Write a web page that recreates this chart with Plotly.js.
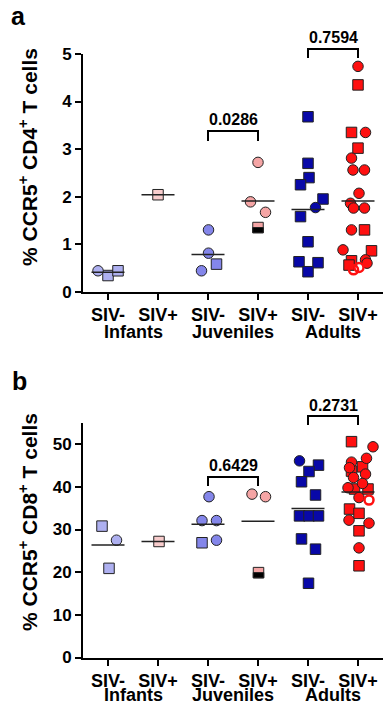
<!DOCTYPE html>
<html><head><meta charset="utf-8">
<script src="https://cdn.plot.ly/plotly-3.0.1.min.js"></script>
<style>html,body{margin:0;padding:0;background:#fff}#chart{width:383px;height:706px}</style>
</head><body><div id="chart"></div>
<script>
// ---------- labels ----------
const tickLabels = ['SIV-', 'SIV+', 'SIV-', 'SIV+', 'SIV-', 'SIV+'];
const groupLabels = ['Infants', 'Juveniles', 'Adults'];
const groupCenters = [0.5, 2.5, 4.5];
const pLabelsA = ['0.0286', '0.7594'];
const pLabelsB = ['0.6429', '0.2731'];

// ---------- panel a: % CCR5+ CD4+ T cells ----------
const cd4InfNeg = [0.44, 0.34, 0.44];
const cd4InfNegKind = ['c', 's', 's'];
const cd4InfNegDx = [-0.2, 0, 0.2];
const cd4InfPos = [2.04];
const cd4InfPosKind = ['s'];
const cd4InfPosDx = [0];
const cd4JuvNeg = [1.30, 0.81, 0.44, 0.58];
const cd4JuvNegKind = ['c', 'c', 'c', 's'];
const cd4JuvNegDx = [0.01, 0.01, -0.13, 0.17];
const cd4JuvPos = [2.72, 1.89, 1.67, 1.35];
const cd4JuvPosKind = ['c', 'c', 'c', 'h'];
const cd4JuvPosDx = [0, -0.15, 0.15, 0];
const cd4AduNeg = [3.68, 2.70, 2.40, 2.25, 1.95, 1.77, 1.58, 1.05, 0.63, 0.61, 0.42];
const cd4AduNegKind = ['s', 's', 's', 's', 's', 'c', 's', 's', 's', 's', 's'];
const cd4AduNegDx = [0, 0, 0.02, -0.15, 0.3, 0.15, -0.15, 0, -0.18, 0.2, 0];
const cd4AduPos = [4.74, 4.35, 3.35, 3.35, 3.02, 2.81, 2.56, 2.56, 2.07, 1.86, 1.76, 1.76, 1.30, 1.30, 0.88, 0.86, 0.65, 0.67, 0.60, 0.56, 0.46, 0.51];
const cd4AduPosKind = ['c', 's', 's', 'c', 's', 'c', 'c', 'c', 'c', 'c', 'c', 'c', 'c', 's', 'c', 's', 's', 'c', 'c', 's', 'o', 'o'];
const cd4AduPosDx = [0, 0, -0.13, 0.15, 0, -0.13, -0.1, 0.13, 0.02, -0.15, -0.09, 0.13, -0.13, 0.13, -0.3, 0.27, -0.13, 0.15, 0.18, -0.18, -0.09, 0.02];

// ---------- panel b: % CCR5+ CD8+ T cells ----------
const cd8InfNeg = [30.8, 27.5, 20.9];
const cd8InfNegKind = ['s', 'c', 's'];
const cd8InfNegDx = [-0.12, 0.17, 0.02];
const cd8InfPos = [27.2];
const cd8InfPosKind = ['s'];
const cd8InfPosDx = [0.02];
const cd8JuvNeg = [37.7, 32.1, 32.1, 27.5, 26.9];
const cd8JuvNegKind = ['c', 'c', 'c', 'c', 's'];
const cd8JuvNegDx = [0.02, -0.12, 0.17, 0.17, -0.12];
const cd8JuvPos = [38.3, 37.7, 19.9];
const cd8JuvPosKind = ['c', 'c', 'h'];
const cd8JuvPosDx = [-0.12, 0.15, 0.01];
const cd8AduNeg = [46.1, 45.1, 43.6, 41.2, 38.1, 33.2, 33.2, 33.2, 27.8, 25.4, 17.4];
const cd8AduNegKind = ['c', 's', 's', 's', 's', 's', 's', 's', 's', 's', 's'];
const cd8AduNegDx = [-0.17, 0.21, 0.02, -0.13, 0.15, -0.17, 0.02, 0.21, -0.13, 0.15, 0.01];
const cd8AduPos = [50.6, 49.4, 46.7, 45.8, 44.7, 44.5, 43.7, 43.0, 42.2, 40.8, 39.8, 39.5, 39.5, 37.5, 36.9, 34.8, 33.8, 32.2, 31.5, 29.7, 25.7, 21.5];
const cd8AduPosKind = ['s', 'c', 'c', 'c', 's', 'c', 's', 'c', 'c', 'c', 'c', 's', 's', 'c', 'o', 's', 's', 'c', 'c', 's', 'c', 's'];
const cd8AduPosDx = [-0.13, 0.3, 0.17, -0.13, 0.09, -0.17, -0.13, 0.15, -0.09, 0.09, -0.2, 0.2, -0.07, 0.02, 0.22, -0.17, 0.02, -0.18, 0.22, 0.02, 0.02, 0.02];

// ---------- styles ----------
const groupColors = ['#aeb0f0', '#f8cccc', '#8486ea', '#f5a5a5', '#0808a8', '#ff1010'];
const FONT = 'Arial, "Liberation Sans", sans-serif';
const MS = 10.5;

const panels = [
  {xa: 'x', ya: 'y', vals: [cd4InfNeg, cd4InfPos, cd4JuvNeg, cd4JuvPos, cd4AduNeg, cd4AduPos],
   kinds: [cd4InfNegKind, cd4InfPosKind, cd4JuvNegKind, cd4JuvPosKind, cd4AduNegKind, cd4AduPosKind],
   dxs: [cd4InfNegDx, cd4InfPosDx, cd4JuvNegDx, cd4JuvPosDx, cd4AduNegDx, cd4AduPosDx]},
  {xa: 'x2', ya: 'y2', vals: [cd8InfNeg, cd8InfPos, cd8JuvNeg, cd8JuvPos, cd8AduNeg, cd8AduPos],
   kinds: [cd8InfNegKind, cd8InfPosKind, cd8JuvNegKind, cd8JuvPosKind, cd8AduNegKind, cd8AduPosKind],
   dxs: [cd8InfNegDx, cd8InfPosDx, cd8JuvNegDx, cd8JuvPosDx, cd8AduNegDx, cd8AduPosDx]}
];

const traces = [];
const shapes = [];
panels.forEach(p => {
  p.vals.forEach((vals, ci) => {
    const kinds = p.kinds[ci], dxs = p.dxs[ci];
    ['s', 'h', 'c', 'o'].forEach(k => {
      const xs = [], ys = [];
      vals.forEach((v, i) => { if (kinds[i] === k) { xs.push(ci + dxs[i]); ys.push(v); } });
      if (!xs.length) return;
      const marker = (k === 'o')
        ? {symbol: 'circle-open', size: 9, color: groupColors[ci], line: {width: 2.5, color: groupColors[ci]}}
        : {symbol: (k === 'c') ? 'circle' : 'square', size: MS, color: groupColors[ci], line: {width: 1, color: '#222'}};
      traces.push({type: 'scatter', mode: 'markers', x: xs, y: ys, xaxis: p.xa, yaxis: p.ya,
        marker: marker, cliponaxis: false, showlegend: false, hoverinfo: 'skip'});
      if (k === 'h') {
        xs.forEach((xv, j) => shapes.push({type: 'rect', xref: p.xa, yref: p.ya,
          xsizemode: 'pixel', ysizemode: 'pixel', xanchor: xv, yanchor: ys[j],
          x0: -MS / 2, x1: MS / 2, y0: -MS / 2, y1: 0,
          fillcolor: '#000', line: {width: 1, color: '#222'}, layer: 'above'}));
      }
    });
    const m = vals.reduce((a, b) => a + b, 0) / vals.length;
    traces.push({type: 'scatter', mode: 'lines', x: [ci - 0.33, ci + 0.33], y: [m, m],
      xaxis: p.xa, yaxis: p.ya, line: {color: '#222', width: 1.5}, cliponaxis: false,
      showlegend: false, hoverinfo: 'skip'});
  });
});

// pixel -> paper helper (page height 706, no top/bottom margins)
const py = v => 1 - v / 706;
const px = v => (v - 83) / 300;

function bracket(xref, x0, x1, top, leg) {
  return {type: 'path', xref: xref, yref: 'paper',
    path: `M${x0},${py(leg)} L${x0},${py(top)} L${x1},${py(top)} L${x1},${py(leg)}`,
    line: {color: '#000', width: 2}};
}
shapes.push(bracket('x', 2, 3, 131, 141));
shapes.push(bracket('x', 4, 5, 49, 58));
shapes.push(bracket('x2', 2, 3, 477, 486));
shapes.push(bracket('x2', 4, 5, 416, 425));

const annotations = [];
const bold = (t) => `<b>${t}</b>`;
function ann(xref, x, y, text, size, extra) {
  return Object.assign({xref: xref, yref: 'paper', x: x, y: py(y), text: bold(text), showarrow: false,
    font: {family: FONT, size: size, color: '#000'}, xanchor: 'center', yanchor: 'middle'}, extra || {});
}
annotations.push(ann('paper', px(18), 16, 'a', 25));
annotations.push(ann('paper', px(19), 381, 'b', 25));
annotations.push(ann('paper', px(28), 157, '% CCR5<sup>+</sup> CD4<sup>+</sup> T cells', 21, {textangle: -90}));
annotations.push(ann('paper', px(28), 522, '% CCR5<sup>+</sup> CD8<sup>+</sup> T cells', 21, {textangle: -90}));
groupLabels.forEach((g, i) => {
  annotations.push(ann('x', groupCenters[i], 332, g, 18));
  annotations.push(ann('x2', groupCenters[i], 695, g, 18));
});
annotations.push(ann('x', 2.5, 119, pLabelsA[0], 16));
annotations.push(ann('x', 4.5, 38, pLabelsA[1], 16));
annotations.push(ann('x2', 2.5, 465, pLabelsB[0], 16));
annotations.push(ann('x2', 4.5, 405, pLabelsB[1], 16));

const xAxisBase = {
  range: [-0.5, 5.5], tickvals: [0, 1, 2, 3, 4, 5], ticktext: tickLabels.map(bold),
  showline: true, linewidth: 2, linecolor: '#000', ticks: 'outside', ticklen: 6, tickwidth: 2,
  tickcolor: '#000', showgrid: false, zeroline: false, fixedrange: true,
  tickfont: {family: FONT, size: 18, color: '#000'}, domain: [0, 1]
};
const yAxisBase = {
  showline: true, linewidth: 2, linecolor: '#000', ticks: 'outside', ticklen: 6, tickwidth: 2,
  tickcolor: '#000', showgrid: false, zeroline: false, fixedrange: true,
  tickfont: {family: FONT, size: 17, color: '#000'}
};

const layout = {
  width: 383, height: 706,
  margin: {l: 83, r: 0, t: 0, b: 0},
  paper_bgcolor: '#fff', plot_bgcolor: '#fff',
  showlegend: false,
  xaxis: Object.assign({}, xAxisBase, {anchor: 'y'}),
  yaxis: Object.assign({}, yAxisBase, {anchor: 'x', range: [0, 5], tickvals: [0, 1, 2, 3, 4, 5],
    ticktext: ['0', '1', '2', '3', '4', '5'].map(bold), domain: [py(291.7), py(54)]}),
  xaxis2: Object.assign({}, xAxisBase, {anchor: 'y2'}),
  yaxis2: Object.assign({}, yAxisBase, {anchor: 'x2', range: [0, 55], tickvals: [0, 10, 20, 30, 40, 50],
    ticktext: ['0', '10', '20', '30', '40', '50'].map(bold), domain: [py(657.5), py(422.9)]}),
  shapes: shapes,
  annotations: annotations
};

Plotly.newPlot('chart', traces, layout, {displayModeBar: false, staticPlot: true});
</script>
</body></html>
